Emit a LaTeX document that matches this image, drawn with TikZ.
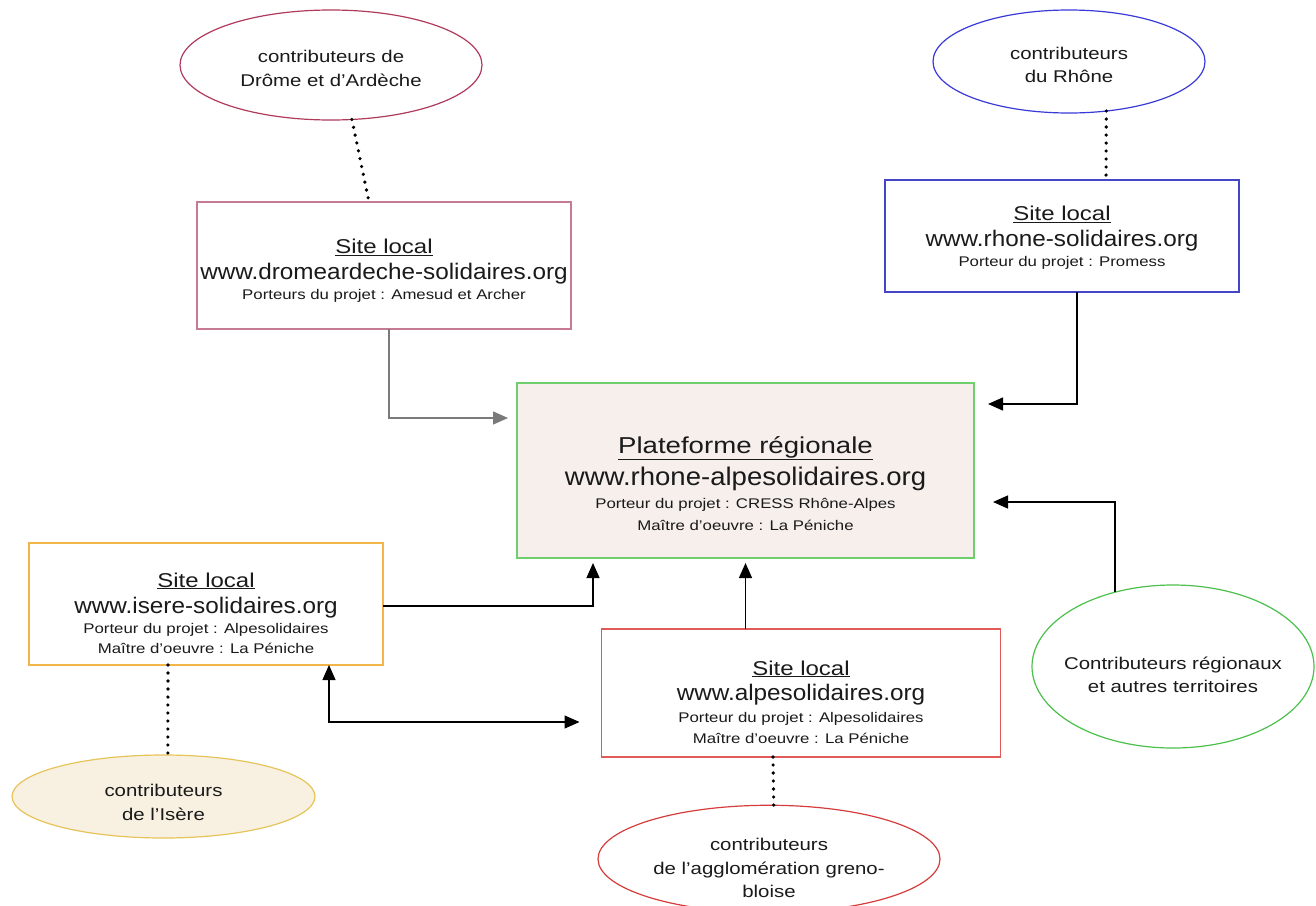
\documentclass[tikz,border=0pt]{standalone}
\usepackage{fontspec}
\setmainfont[FakeStretch=1.2]{Liberation Sans}
\newfontfamily\urlf[FakeStretch=1.08]{Liberation Sans}
\usetikzlibrary{shapes.geometric,arrows.meta}
\definecolor{txt}{HTML}{1A1A1A}
\definecolor{dromeell}{HTML}{B03A5B}
\definecolor{dromebox}{HTML}{C77A94}
\definecolor{rhoneell}{HTML}{3A3AD8}
\definecolor{rhonebox}{HTML}{4545C8}
\definecolor{centralborder}{HTML}{6FCF6F}
\definecolor{centralfill}{HTML}{F6EFEC}
\definecolor{iserebox}{HTML}{F2B548}
\definecolor{isereell}{HTML}{E6C45A}
\definecolor{isereellfill}{HTML}{F8F1E2}
\definecolor{alpesbox}{HTML}{E05A5A}
\definecolor{aggloell}{HTML}{D53C3C}
\definecolor{greenell}{HTML}{4CC04C}
\definecolor{grayconn}{HTML}{7A7A7A}
\newcommand\fsz[1]{\fontsize{#1}{#1}\selectfont}
\newcommand\cl[2]{\hbox to 0pt{\hss\vrule height #1 depth 0pt width 0pt\smash{#2}\hss}}
\newcommand\tb[2]{\vbox{\offinterlineskip\vskip#1\relax#2}}
\begin{document}
\begin{tikzpicture}[x=1pt,y=-1pt,
  sitebox/.style={draw, rectangle, line width=1.2pt, inner sep=0pt, outer sep=0pt, text=txt, fill=white},
  contrib/.style={draw, ellipse, line width=1.2pt, inner sep=0pt, outer sep=0pt, text=txt, fill=white, font=\fsz{17}},
  conn/.style={line width=1.3pt, -{Triangle[length=15pt,width=13pt]}},
  dconn/.style={line width=1.3pt, {Triangle[length=15pt,width=13pt]}-{Triangle[length=15pt,width=13pt]}},
  dots/.style={line width=3.6pt, line cap=round, dash pattern=on 0pt off 8pt}]
\useasboundingbox (0,0) rectangle (1316,905);
\fill[white] (0,0) rectangle (1316,905);

% ellipses
\node[contrib, draw=dromeell, minimum width=302pt, minimum height=110pt] (dromeEll) at (331,65)
  {\tb{6pt}{\cl{12pt}{contributeurs de}\cl{24pt}{Drôme et d’Ardèche}}};
\node[contrib, draw=rhoneell, minimum width=272pt, minimum height=103pt] (rhoneEll) at (1069,61.5)
  {\tb{6pt}{\cl{12pt}{contributeurs}\cl{23pt}{du Rhône}}};
\node[contrib, draw=isereell, fill=isereellfill, minimum width=303pt, minimum height=83pt] (isereEll) at (163.5,796.5)
  {\tb{12pt}{\cl{12pt}{contributeurs}\cl{24pt}{de l’Isère}}};
\node[contrib, draw=aggloell, minimum width=342pt, minimum height=88pt] (aggloEll) at (769,859)
  {\tb{17pt}{\cl{12pt}{contributeurs}\cl{24pt}{de l’agglomération greno-}\cl{23pt}{bloise}}};
\node[contrib, draw=greenell, minimum width=282pt, minimum height=163pt] (greenEll) at (1173,666.5)
  {\tb{16pt}{\cl{12pt}{Contributeurs régionaux}\cl{23pt}{et autres territoires}}};

% boxes
\node[sitebox, draw=dromebox, minimum width=374pt, minimum height=127pt] (drome) at (384,265.5)
  {\tb{7pt}{\cl{15pt}{\fsz{20}\underline{Site local}}\cl{26pt}{\urlf\fsz{22.5}www.dromeardeche-solidaires.org}\cl{20pt}{\fsz{14}Porteurs du projet : Amesud et Archer}}};
\node[sitebox, draw=rhonebox, minimum width=354pt, minimum height=112pt] (rhone) at (1062,236)
  {\tb{0pt}{\cl{15pt}{\fsz{20}\underline{Site local}}\cl{26pt}{\urlf\fsz{22.5}www.rhone-solidaires.org}\cl{20pt}{\fsz{14}Porteur du projet : Promess}}};
\node[sitebox, draw=centralborder, fill=centralfill, minimum width=457pt, minimum height=175pt] (central) at (745.5,470.5)
  {\tb{25pt}{\cl{17pt}{\fsz{23}\underline{Plateforme régionale}}\cl{32pt}{\urlf\fsz{25.5}www.rhone-alpesolidaires.org}\cl{23pt}{\fsz{14}Porteur du projet : CRESS Rhône-Alpes}\cl{22pt}{\fsz{14}Maître d'oeuvre : La Péniche}}};
\node[sitebox, draw=iserebox, minimum width=354pt, minimum height=122pt] (isere) at (206,604)
  {\tb{17pt}{\cl{15pt}{\fsz{20}\underline{Site local}}\cl{26pt}{\urlf\fsz{22.5}www.isere-solidaires.org}\cl{20pt}{\fsz{14}Porteur du projet : Alpesolidaires}\cl{20pt}{\fsz{14}Maître d'oeuvre : La Péniche}}};
\node[sitebox, draw=alpesbox, minimum width=399pt, minimum height=128pt] (alpes) at (801,693)
  {\tb{17pt}{\cl{15pt}{\fsz{20}\underline{Site local}}\cl{25pt}{\urlf\fsz{22.5}www.alpesolidaires.org}\cl{22pt}{\fsz{14}Porteur du projet : Alpesolidaires}\cl{21pt}{\fsz{14}Maître d'oeuvre : La Péniche}}};

% dotted links
\draw[dots] (dromeEll.-69) -- ([xshift=-15pt]drome.north);
\draw[dots] (rhoneEll.-53) -- ([xshift=44pt]rhone.north);
\draw[dots] ([xshift=-38pt]isere.south) -- (isereEll.84);
\draw[dots] ([xshift=-28pt]alpes.south) -- (aggloEll.85);

% arrows
\draw[conn, draw=grayconn, shorten >=9pt] ([xshift=5pt]drome.south) |- ([yshift=52.5pt]central.west);
\draw[conn, shorten >=14pt] ([xshift=15pt]rhone.south) |- ([yshift=66.5pt]central.east);
\draw[conn, shorten >=19pt] (greenEll.128) |- ([yshift=-31.5pt]central.east);
\draw[conn, shorten >=5pt] ([yshift=-2pt]isere.east) -| ([xshift=-152.5pt]central.south);
\draw[conn, shorten >=5pt] (alpes.north -| central.south) -- (central.south);
\draw[dconn, shorten >=22pt] ([xshift=123pt]isere.south) |- ([yshift=-29pt]alpes.west);
\end{tikzpicture}
\end{document}
